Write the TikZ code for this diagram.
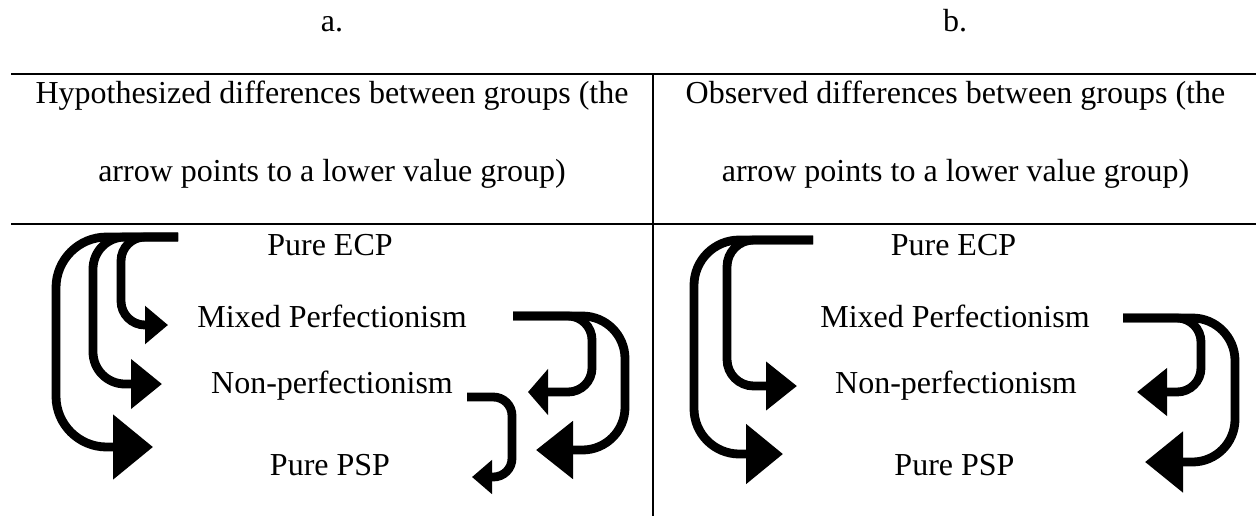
\documentclass[tikz,border=0pt]{standalone}
\usepackage{fontspec}
\setmainfont{Liberation Serif}
\usetikzlibrary{arrows.meta}
\tikzset{
  rule/.style={line width=0.8pt, black},
  lbl/.style={anchor=base, inner sep=0pt, font=\fontsize{12pt}{14pt}\selectfont},
  fat/.style={line width=3.3pt, black},
}
\newcommand{\tipLW}[2]{-{Triangle[length=#1*0.375pt, width=#2*0.375pt]}}
\begin{document}
\begin{tikzpicture}[x=0.375pt, y=-0.375pt]
\useasboundingbox (0,0) rectangle (1256,516);
% table rules
\coordinate (tl) at (11,74);
\coordinate (tr) at (1256,74);
\coordinate (ml) at (11,224);
\coordinate (mr) at (1256,224);
\coordinate (vt) at (653,74);
\coordinate (vb) at (653,516);
\draw[rule] (tl) -- (tr);
\draw[rule] (ml) -- (mr);
\draw[rule] (vt) -- (vb);
% titles
\node[lbl] (ta) at (332,31) {a.};
\node[lbl] (tb) at (955,31) {b.};
\node[lbl] (ha1) at (332,103) {Hypothesized differences between groups (the};
\node[lbl] (ha2) at (332,181) {arrow points to a lower value group)};
\node[lbl] (hb1) at (955.5,103) {Observed differences between groups (the};
\node[lbl] (hb2) at (955.5,181) {arrow points to a lower value group)};
% rows left
\node[lbl] (aE) at (330,255) {Pure ECP};
\node[lbl] (aM) at (332,327) {Mixed Perfectionism};
\node[lbl] (aN) at (332,393) {Non-perfectionism};
\node[lbl] (aP) at (330,475) {Pure PSP};
% rows right
\node[lbl] (bE) at (953.5,255) {Pure ECP};
\node[lbl] (bM) at (955,327) {Mixed Perfectionism};
\node[lbl] (bN) at (956,393) {Non-perfectionism};
\node[lbl] (bP) at (954.5,475) {Pure PSP};
% ---- panel a arrows
\coordinate (s1) at (178,237);
\coordinate (a1c) at (56,447);  \coordinate (a1t) at (153,447);
\coordinate (a2c) at (93,384);  \coordinate (a2t) at (162,384);
\coordinate (a3c) at (121,325); \coordinate (a3t) at (168,325);
\draw[fat, rounded corners=19pt, \tipLW{40}{63}] (s1) -| (a1c) -- (a1t);
\draw[fat, rounded corners=12pt, \tipLW{31}{48}] (s1) -| (a2c) -- (a2t);
\draw[fat, rounded corners=9pt, \tipLW{23}{37}] (s1) -| (a3c) -- (a3t);
\coordinate (s2) at (513,316);
\coordinate (a4c) at (592,392); \coordinate (a4t) at (528,392);
\coordinate (a5c) at (625,450); \coordinate (a5t) at (536,450);
\draw[fat, rounded corners=9pt, \tipLW{20}{45}] (s2) -| (a4c) -- (a4t);
\draw[fat, rounded corners=16pt, \tipLW{37}{56}] (s2) -| (a5c) -- (a5t);
\coordinate (s3) at (467,397);
\coordinate (a6c) at (512,477); \coordinate (a6t) at (472,477);
\draw[fat, rounded corners=7pt, \tipLW{20}{33}] (s3) -| (a6c) -- (a6t);
% ---- panel b arrows
\coordinate (s4) at (813,240);
\coordinate (b1c) at (694,454); \coordinate (b1t) at (783,454);
\coordinate (b2c) at (727,386); \coordinate (b2t) at (797,386);
\draw[fat, rounded corners=17pt, \tipLW{37}{58}] (s4) -| (b1c) -- (b1t);
\draw[fat, rounded corners=10pt, \tipLW{31}{47}] (s4) -| (b2c) -- (b2t);
\coordinate (s5) at (1123,318);
\coordinate (b3c) at (1201,392); \coordinate (b3t) at (1137,392);
\coordinate (b4c) at (1235,462); \coordinate (b4t) at (1145,462);
\draw[fat, rounded corners=9pt, \tipLW{30}{46}] (s5) -| (b3c) -- (b3t);
\draw[fat, rounded corners=16pt, \tipLW{38}{59}] (s5) -| (b4c) -- (b4t);
\end{tikzpicture}
\end{document}
